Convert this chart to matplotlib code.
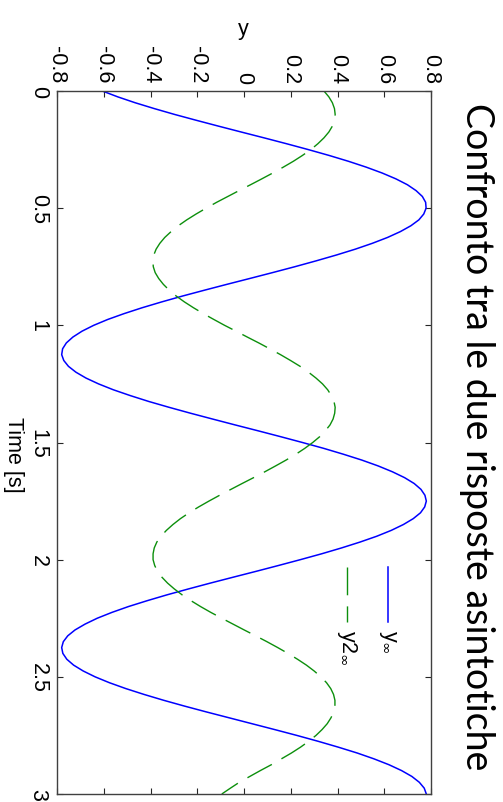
import matplotlib
matplotlib.use("Agg")
import matplotlib.pyplot as plt
import numpy as np

# time samples [s], read every 0.025 s
time_s = np.round(np.arange(0, 3.0001, 0.025), 3)

# y_inf (blue, solid)
y_inf = [-0.606, -0.540, -0.466, -0.384, -0.297, -0.204, -0.109, -0.012, 0.086, 0.182,
         0.275, 0.364, 0.447, 0.523, 0.591, 0.650, 0.699, 0.736, 0.763, 0.777,
         0.779, 0.769, 0.748, 0.714, 0.669, 0.614, 0.549, 0.476, 0.395, 0.308,
         0.217, 0.122, 0.025, -0.073, -0.169, -0.263, -0.352, -0.436, -0.513, -0.583,
         -0.643, -0.693, -0.732, -0.760, -0.776, -0.780, -0.771, -0.751, -0.719, -0.676,
         -0.622, -0.559, -0.486, -0.407, -0.320, -0.229, -0.134, -0.038, 0.060, 0.156,
         0.250, 0.341, 0.425, 0.504, 0.574, 0.635, 0.687, 0.728, 0.757, 0.774,
         0.780, 0.773, 0.755, 0.724, 0.682, 0.630, 0.568, 0.496, 0.417, 0.332,
         0.241, 0.147, 0.051, -0.047, -0.144, -0.238, -0.329, -0.414, -0.494, -0.565,
         -0.628, -0.680, -0.723, -0.754, -0.773, -0.780, -0.775, -0.758, -0.729, -0.688,
         -0.637, -0.576, -0.506, -0.428, -0.344, -0.254, -0.160, -0.063, 0.034, 0.131,
         0.226, 0.317, 0.403, 0.484, 0.556, 0.620, 0.674, 0.718, 0.750, 0.771,
         0.780]

# y2_inf (green, dashed)
y2_inf = [0.342, 0.363, 0.378, 0.387, 0.390, 0.387, 0.378, 0.363, 0.342, 0.316,
          0.286, 0.250, 0.211, 0.168, 0.123, 0.076, 0.028, -0.021, -0.069, -0.117,
          -0.162, -0.205, -0.245, -0.281, -0.312, -0.339, -0.360, -0.376, -0.386, -0.390,
          -0.388, -0.380, -0.365, -0.345, -0.320, -0.290, -0.255, -0.216, -0.174, -0.129,
          -0.083, -0.034, 0.014, 0.063, 0.110, 0.156, 0.199, 0.240, 0.276, 0.308,
          0.336, 0.358, 0.374, 0.385, 0.390, 0.388, 0.381, 0.368, 0.348, 0.324,
          0.294, 0.260, 0.222, 0.180, 0.135, 0.089, 0.041, -0.008, -0.056, -0.104,
          -0.150, -0.194, -0.235, -0.272, -0.304, -0.332, -0.355, -0.373, -0.384, -0.389,
          -0.389, -0.382, -0.370, -0.351, -0.327, -0.298, -0.265, -0.227, -0.186, -0.142,
          -0.095, -0.047, 0.001, 0.050, 0.098, 0.144, 0.188, 0.229, 0.267, 0.300,
          0.329, 0.353, 0.371, 0.383, 0.389, 0.389, 0.384, 0.372, 0.356, 0.334,
          0.308, 0.277, 0.242, 0.203, 0.160, 0.117, 0.070, 0.025, -0.020, -0.058,
          -0.095]

y_ticks = [-0.8, -0.6, -0.4, -0.2, 0, 0.2, 0.4, 0.6, 0.8]
y_tick_labels = ['-0.8', '-0.6', '-0.4', '-0.2', '0', '0.2', '0.4', '0.6', '0.8']
t_ticks = [0, 0.5, 1, 1.5, 2, 2.5, 3]
t_tick_labels = ['0', '0.5', '1', '1.5', '2', '2.5', '3']

title = 'Confronto tra le due risposte asintotiche'

plt.rcParams['font.family'] = ['Liberation Sans', 'DejaVu Sans']

W, H = 503, 803
fig = plt.figure(figsize=(W / 100, H / 100), dpi=100)

# the whole chart is turned a quarter turn clockwise
ax = fig.add_axes([57 / W, 1 - 795 / H, 374 / W, 703 / H])

blue = '#0000ff'
green = '#0c8f0c'
ax.plot(y_inf, time_s, color=blue, lw=1.1)
ax.plot(y2_inf, time_s, color=green, lw=1.0, dashes=(20, 8))

ax.set_xlim(-0.8, 0.8)
ax.set_ylim(3, 0)

ax.xaxis.tick_top()
ax.set_xticks(y_ticks)
ax.set_xticklabels(y_tick_labels)
ax.set_yticks(t_ticks)
ax.set_yticklabels(t_tick_labels)

ax.tick_params(axis='both', direction='in', length=4, width=0.8, color='#262626',
               top=True, bottom=True, left=True, right=True, labelsize=15.5)
ax.tick_params(axis='x', pad=6)
ax.tick_params(axis='y', pad=6)
for lab in ax.get_xticklabels():
    lab.set_rotation(-90)
    lab.set_ha('center')
    lab.set_va('bottom')
for lab in ax.get_yticklabels():
    lab.set_rotation(-90)
    lab.set_ha('right')
    lab.set_va('center')

for s in ax.spines.values():
    s.set_color('#404040')
    s.set_linewidth(1.0)

# axis labels
fig.text(243 / W, 1 - 29 / H, 'y', fontsize=15.5, ha='center', va='center')
fig.text(13 / W, 1 - 455 / H, 'Time [s]', fontsize=15.5, rotation=-90,
         ha='center', va='center')

# legend, drawn by hand so it turns with the chart
ax.plot([0.885, 0.885], [0.323, 0.245], transform=ax.transAxes, color=blue, lw=1.1)
ax.plot([0.775, 0.775], [0.323, 0.245], transform=ax.transAxes, color=green, lw=1.0,
        dashes=(20, 8))
ax.text(0.885, 0.235, r'y$_\infty$', transform=ax.transAxes, fontsize=15.5,
        rotation=-90, ha='center', va='top')
ax.text(0.775, 0.235, r'y2$_\infty$', transform=ax.transAxes, fontsize=15.5,
        rotation=-90, ha='center', va='top')

# title on the right side
fig.text(477 / W, 1 - 437 / H, title, fontsize=27, rotation=-90, family='Lato',
         ha='center', va='center')

fig.savefig('out.png', dpi=100)
